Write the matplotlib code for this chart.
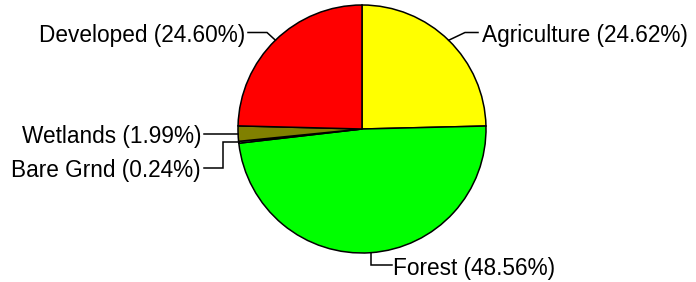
import numpy as np
import matplotlib
matplotlib.use("Agg")
import matplotlib.pyplot as plt

# ---- data ----
categories = ["Agriculture", "Forest", "Bare Grnd", "Wetlands", "Developed"]
percentages = [24.62, 48.56, 0.24, 1.99, 24.60]
colors = ["#FFFF00", "#00FF00", "#A0A0A0", "#808000", "#FF0000"]

W, H = 696, 282
fig = plt.figure(figsize=(W / 100, H / 100), dpi=100)
ax = fig.add_axes([0, 0, 1, 1])

cx, cy_px, R = 362.0, 129.0, 124.0
cy = H - cy_px

wedges, _ = ax.pie(percentages, colors=colors, startangle=90, counterclock=False,
                   center=(cx, cy), radius=R,
                   wedgeprops=dict(edgecolor="black", linewidth=1.1))
ax.set_xlim(0, W)
ax.set_ylim(0, H)
ax.set_aspect("equal")
ax.axis("off")

plt.rcParams["font.family"] = ["Liberation Sans", "DejaVu Sans"]
FS = 16.3


def py(v):
    return H - v


def edge_point(w):
    a = np.deg2rad((w.theta1 + w.theta2) / 2)
    return cx + R * np.cos(a), cy + R * np.sin(a)


# label layout in pixel coords: (bend points after edge, text x, alignment)
layout = {
    "Agriculture": ([(465, 32.5), (478, 32.5)], 482, "left"),
    "Developed": ([(267, 32.5), (248, 32.5)], 245, "right"),
    "Forest": ([("edge", 265), (392, 265)], 393, "left"),
    "Wetlands": ([(204, "edge")], 201, "right"),
    "Bare Grnd": ([(222.7, "edge"), (222.7, 168), (204, 168)], 201, "right"),
}

for name, pct, w in zip(categories, percentages, wedges):
    label = f"{name} ({pct:.2f}%)"
    ex, ey = edge_point(w)
    bends, tx, ha = layout[name]
    pts = [(ex, ey)]
    for bx, by in bends:
        x = ex if bx == "edge" else bx
        y = ey if by == "edge" else py(by)
        pts.append((x, y))
    xs, ys = zip(*pts)
    ax.plot(xs, ys, color="black", lw=1.1, solid_joinstyle="miter")
    ly = pts[-1][1]
    ax.text(tx, ly - 9.5, label, ha=ha, va="baseline", fontsize=FS, color="black")

fig.savefig("out.png", dpi=100)
